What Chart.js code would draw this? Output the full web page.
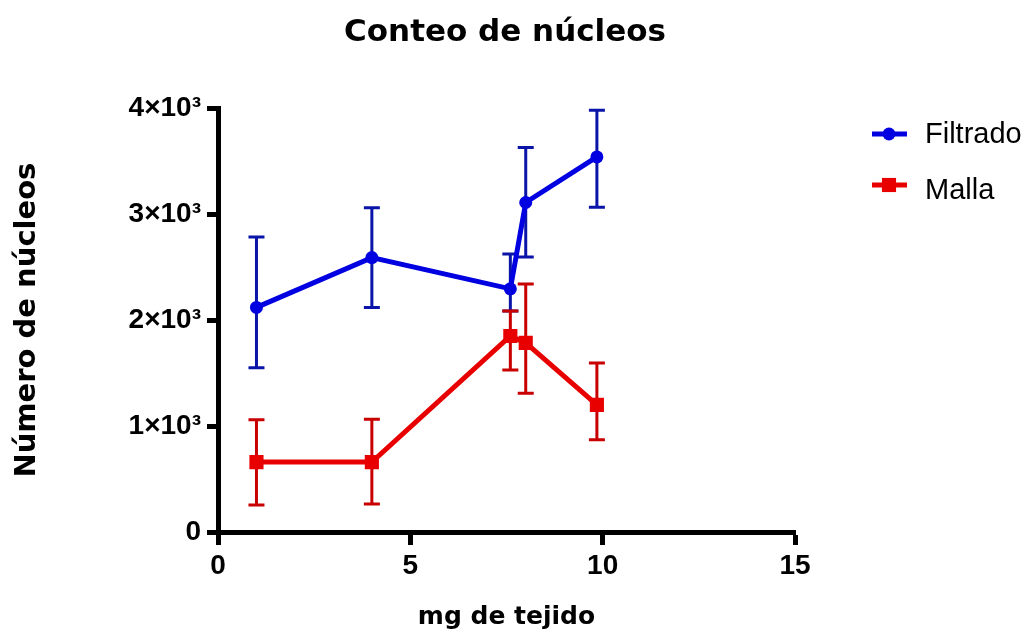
<!DOCTYPE html>
<html>
<head>
<meta charset="utf-8">
<title>Conteo de núcleos</title>
<script src="https://cdn.jsdelivr.net/npm/chart.js@4.4.1/dist/chart.umd.min.js"></script>
<style>
  html, body { margin: 0; padding: 0; background: #fff; }
  #wrap { width: 1028px; height: 632px; }
</style>
</head>
<body>
<div id="wrap"><canvas id="chart" width="1028" height="632"></canvas></div>
<script>
// values
const xValues = [1, 4, 7.6, 8, 9.85]
const filtradoMean = [2120, 2590, 2295, 3110, 3540]
const filtradoLow = [1550, 2120, 2085, 2595, 3065]
const filtradoHigh = [2785, 3060, 2625, 3630, 3980]
const mallaMean = [660, 660, 1850, 1785, 1200]
const mallaLow = [255, 265, 1530, 1310, 870]
const mallaHigh = [1060, 1065, 2085, 2340, 1595]
const xTicks = [0, 5, 10, 15]
const yTicks = [0, 1000, 2000, 3000, 4000]
const yTickLabels = ['0', '1×10³', '2×10³', '3×10³', '4×10³']

const toPoints = (ys) => xValues.map((x, i) => ({ x: x, y: ys[i] }))

// vertical error bars with caps, drawn under the lines
const errorBars = {
  id: 'errorBars',
  beforeDatasetsDraw(chart) {
    const ctx = chart.ctx
    const xs = chart.scales.x
    const ys = chart.scales.y
    chart.data.datasets.forEach((ds, i) => {
      if (!chart.isDatasetVisible(i)) return
      ctx.save()
      ctx.strokeStyle = ds.errorColor
      ctx.lineWidth = 3
      ds.data.forEach((p, j) => {
        const px = xs.getPixelForValue(p.x)
        const lo = ys.getPixelForValue(ds.low[j])
        const hi = ys.getPixelForValue(ds.high[j])
        ctx.beginPath()
        ctx.moveTo(px, hi)
        ctx.lineTo(px, lo)
        ctx.moveTo(px - 8, hi)
        ctx.lineTo(px + 8, hi)
        ctx.moveTo(px - 8, lo)
        ctx.lineTo(px + 8, lo)
        ctx.stroke()
      })
      ctx.restore()
    })
  }
}

// legend like the original: short line with the marker, then the name
const sideLegend = {
  id: 'sideLegend',
  afterDraw(chart, args, opts) {
    const ctx = chart.ctx
    chart.data.datasets.forEach((ds, i) => {
      const ly = opts.lineY[i]
      ctx.save()
      ctx.strokeStyle = ds.borderColor
      ctx.lineWidth = 5
      ctx.beginPath()
      ctx.moveTo(opts.x, ly)
      ctx.lineTo(opts.x + 35, ly)
      ctx.stroke()
      ctx.fillStyle = ds.backgroundColor
      Chart.helpers.drawPoint(ctx, {
        pointStyle: ds.pointStyle,
        radius: ds.pointRadius,
        rotation: 0,
        borderWidth: 0
      }, opts.x + 17, ly)
      ctx.fillStyle = '#000'
      ctx.font = '29px "Liberation Sans", Arial, sans-serif'
      ctx.textBaseline = 'alphabetic'
      ctx.textAlign = 'left'
      ctx.fillText(ds.label, opts.x + 53, opts.textY[i])
      ctx.restore()
    })
  }
}

const tickFont = { family: '"Liberation Sans", Arial, sans-serif', size: 28, weight: 'bold' }

new Chart(document.getElementById('chart'), {
  type: 'line',
  data: {
    datasets: [
      {
        label: 'Filtrado',
        data: toPoints(filtradoMean),
        low: filtradoLow,
        high: filtradoHigh,
        borderColor: '#0000e0',
        backgroundColor: '#0000e0',
        errorColor: '#0a14a8',
        borderWidth: 5,
        pointStyle: 'circle',
        pointRadius: 6.5,
        pointBorderWidth: 0,
        pointHoverRadius: 6.5
      },
      {
        label: 'Malla',
        data: toPoints(mallaMean),
        low: mallaLow,
        high: mallaHigh,
        borderColor: '#e80000',
        backgroundColor: '#e80000',
        errorColor: '#c80000',
        borderWidth: 5,
        pointStyle: 'rect',
        pointRadius: 10,
        pointBorderWidth: 0,
        pointHoverRadius: 10
      }
    ]
  },
  options: {
    responsive: false,
    devicePixelRatio: 1,
    animation: false,
    layout: { padding: { left: 0, right: 18, top: 0, bottom: 0 } },
    elements: { line: { tension: 0 } },
    scales: {
      x: {
        type: 'linear',
        min: 0,
        max: 15,
        afterBuildTicks: (s) => { s.ticks = xTicks.map(v => ({ value: v })) },
        afterFit: (s) => { s.height = 100 },
        grid: { drawOnChartArea: false, drawTicks: true, tickLength: 13, tickWidth: 5, tickColor: '#000' },
        border: { display: true, color: '#000', width: 5 },
        ticks: { color: '#000', font: tickFont, padding: 4, maxRotation: 0 },
        title: {
          display: true,
          text: 'mg de tejido',
          color: '#000',
          font: { family: '"DejaVu Sans", sans-serif', size: 25, weight: 'bold' },
          padding: { top: 3, bottom: 0 }
        }
      },
      y: {
        min: 0,
        max: 4000,
        afterBuildTicks: (s) => { s.ticks = yTicks.map(v => ({ value: v })) },
        afterFit: (s) => { s.width = 218 },
        grid: { drawOnChartArea: false, drawTicks: true, tickLength: 11, tickWidth: 5, tickColor: '#000' },
        border: { display: true, color: '#000', width: 5 },
        ticks: {
          color: '#000',
          font: tickFont,
          padding: 6,
          callback: (v) => yTickLabels[yTicks.indexOf(v)]
        },
        title: {
          display: true,
          text: 'Número de núcleos',
          color: '#000',
          font: { family: '"DejaVu Sans", sans-serif', size: 29, weight: 'bold' },
          padding: { top: 10, bottom: 0 }
        }
      },
      // empty right-hand box that keeps room for the legend
      yRight: {
        position: 'right',
        min: 0,
        max: 1,
        afterFit: (s) => { s.width = 215 },
        grid: { display: false, drawTicks: false },
        border: { display: false },
        ticks: { display: false }
      }
    },
    plugins: {
      legend: { display: false },
      tooltip: { enabled: false },
      title: {
        display: true,
        text: 'Conteo de núcleos',
        color: '#000',
        font: { family: '"DejaVu Sans", sans-serif', size: 31, weight: 'bold' },
        padding: { top: 14, bottom: 57 }
      },
      sideLegend: { x: 872, lineY: [134, 185], textY: [143, 199] }
    }
  },
  plugins: [errorBars, sideLegend]
})
</script>
</body>
</html>
